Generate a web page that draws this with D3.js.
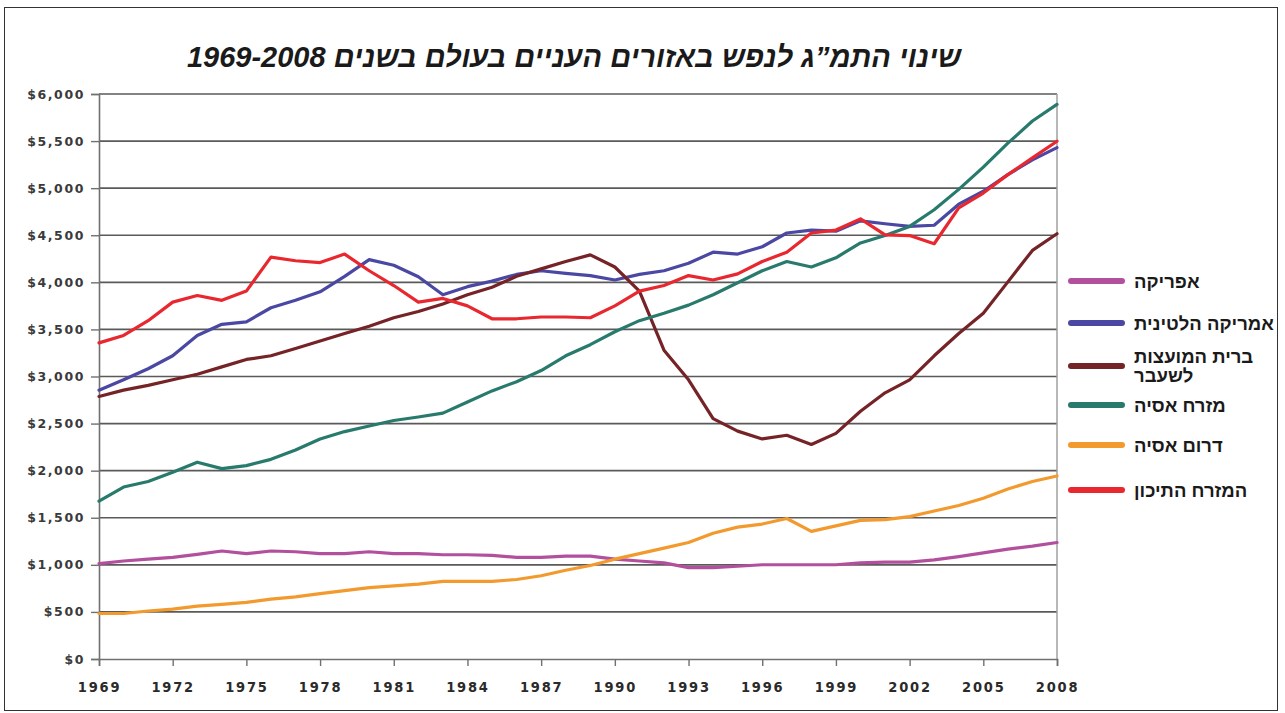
<!DOCTYPE html>
<html>
<head>
<meta charset="utf-8">
<script src="https://cdn.jsdelivr.net/npm/d3@7/dist/d3.min.js"></script>
<style>
  html, body { margin: 0; padding: 0; background: #fff; }
  svg { display: block; }
</style>
</head>
<body>
<svg id="chart" width="1285" height="713"></svg>
<script>
const years = d3.range(1969, 2009);
const tickYears = [1969, 1972, 1975, 1978, 1981, 1984, 1987, 1990, 1993, 1996, 1999, 2002, 2005, 2008];
const yTicks = [0, 500, 1000, 1500, 2000, 2500, 3000, 3500, 4000, 4500, 5000, 5500, 6000];

const africa = [1013,1041,1060,1080,1111,1147,1119,1147,1139,1119,1119,1139,1119,1119,1107,1107,1100,1080,1080,1092,1092,1060,1041,1021,970,970,985,1001,1001,1001,1001,1021,1029,1029,1052,1088,1127,1166,1198,1237];
const latinAmerica = [2855,2965,3082,3220,3436,3554,3581,3730,3809,3899,4064,4241,4182,4060,3868,3954,4013,4084,4123,4096,4072,4025,4084,4123,4202,4320,4300,4378,4524,4555,4543,4653,4622,4594,4606,4830,4967,5144,5301,5430];
const formerUSSR = [2788,2855,2906,2965,3024,3102,3181,3220,3298,3377,3456,3534,3624,3690,3770,3868,3947,4064,4143,4221,4292,4163,3907,3279,2965,2553,2420,2337,2376,2278,2396,2631,2827,2965,3220,3456,3672,4005,4339,4516];
const eastAsia = [1677,1826,1885,1983,2090,2022,2054,2120,2219,2337,2415,2474,2533,2570,2611,2729,2847,2945,3063,3220,3338,3475,3593,3672,3758,3868,3995,4123,4221,4163,4261,4418,4497,4594,4771,4987,5223,5478,5713,5890];
const southAsia = [483,483,510,530,561,581,601,636,660,695,726,758,777,795,825,825,825,844,884,942,993,1060,1119,1178,1237,1335,1400,1433,1492,1355,1414,1472,1480,1512,1571,1630,1708,1806,1885,1944];
const middleEast = [3357,3436,3593,3790,3860,3809,3907,4268,4229,4210,4300,4123,3966,3790,3829,3750,3613,3613,3632,3632,3624,3750,3907,3966,4072,4025,4090,4221,4320,4524,4555,4673,4504,4497,4410,4791,4948,5144,5321,5498];

const seriesNames = ["אפריקה", "אמריקה הלטינית", "ברית המועצות לשעבר", "מזרח אסיה", "דרום אסיה", "המזרח התיכון"];
const seriesColors = ["#b3509e", "#4b48a3", "#752326", "#287a6d", "#f39a2e", "#e8282e"];
const seriesValues = [africa, latinAmerica, formerUSSR, eastAsia, southAsia, middleEast];
const legendLines = [["אפריקה"], ["אמריקה הלטינית"], ["ברית המועצות", "לשעבר"], ["מזרח אסיה"], ["דרום אסיה"], ["המזרח התיכון"]];
const title = "שינוי התמ”ג לנפש באזורים העניים בעולם בשנים 1969-2008";

const svg = d3.select("#chart");
const plot = { left: 99, right: 1057, top: 94, bottom: 659 };

// outer frame
svg.append("rect").attr("x", 4.5).attr("y", 7.5).attr("width", 1273).attr("height", 703)
  .attr("fill", "#fff").attr("stroke", "#333").attr("stroke-width", 1);

const x = d3.scaleLinear().domain([1969, 2008]).range([plot.left, plot.right]);
const y = d3.scaleLinear().domain([0, 6000]).range([plot.bottom, plot.top]);

// gridlines
svg.append("g").selectAll("line").data(yTicks.filter(d => d > 0)).join("line")
  .attr("x1", plot.left).attr("x2", plot.right)
  .attr("y1", d => y(d)).attr("y2", d => y(d))
  .attr("stroke", "#5a5a5a").attr("stroke-width", 1.6);

// right border of plot
svg.append("line").attr("x1", plot.right).attr("x2", plot.right)
  .attr("y1", plot.top).attr("y2", plot.bottom)
  .attr("stroke", "#a0a0a0").attr("stroke-width", 1.5);

// y axis
const yAxis = d3.axisLeft(y).tickValues(yTicks).tickSize(8).tickPadding(6)
  .tickFormat(d => "$" + d3.format(",")(d));
const gy = svg.append("g").attr("transform", `translate(${plot.left},0)`).call(yAxis);
gy.select(".domain").attr("stroke", "#707070").attr("stroke-width", 1.6);
gy.selectAll(".tick line").attr("stroke", "#707070").attr("stroke-width", 1.4);
gy.selectAll(".tick text")
  .attr("font-family", "DejaVu Sans, Verdana, sans-serif")
  .attr("font-size", 12.5).attr("font-weight", "bold")
  .attr("fill", "#3a3a3a").attr("letter-spacing", 1.6);

// x axis
const xAxis = d3.axisBottom(x).tickValues(tickYears).tickSize(7).tickPadding(16)
  .tickFormat(d3.format("d"));
const gx = svg.append("g").attr("transform", `translate(0,${plot.bottom})`).call(xAxis);
gx.select(".domain").attr("stroke", "#707070").attr("stroke-width", 1.6);
gx.selectAll(".tick line").attr("stroke", "#707070").attr("stroke-width", 1.4);
gx.selectAll(".tick text")
  .attr("font-family", "DejaVu Sans Condensed, DejaVu Sans, sans-serif")
  .attr("font-size", 14.5).attr("font-weight", "bold")
  .attr("fill", "#2a2a2a").attr("letter-spacing", 1.8);

// lines
const line = d3.line().x((d, i) => x(years[i])).y(d => y(d));
svg.append("g").selectAll("path").data(seriesValues).join("path")
  .attr("d", d => line(d))
  .attr("fill", "none")
  .attr("stroke", (d, i) => seriesColors[i])
  .attr("stroke-width", 3.2)
  .attr("stroke-linejoin", "round")
  .attr("stroke-linecap", "round");

// title
svg.append("text").attr("x", 574).attr("y", 67)
  .attr("text-anchor", "middle")
  .attr("font-family", "Liberation Sans, Arial, sans-serif")
  .attr("font-size", 29).attr("font-weight", "bold").attr("font-style", "italic")
  .attr("fill", "#1a1a1a")
  .text(title);

// legend
const legendY = [281, 323, 366, 405, 445, 490];
const lg = svg.append("g");
legendLines.forEach((rows, i) => {
  lg.append("line").attr("x1", 1071).attr("x2", 1122)
    .attr("y1", legendY[i]).attr("y2", legendY[i])
    .attr("stroke", seriesColors[i]).attr("stroke-width", 6).attr("stroke-linecap", "round");
  const baseY = rows.length === 1 ? legendY[i] + 7 : legendY[i] - 3;
  rows.forEach((r, j) => {
    lg.append("text").attr("x", 1134).attr("y", baseY + j * 19)
      .attr("direction", "ltr").attr("text-anchor", "start")
      .attr("font-family", "Liberation Sans, Arial, sans-serif")
      .attr("font-size", 18.5).attr("font-weight", "bold")
      .attr("fill", "#1a1a1a")
      .text(r);
  });
});
</script>
</body>
</html>
